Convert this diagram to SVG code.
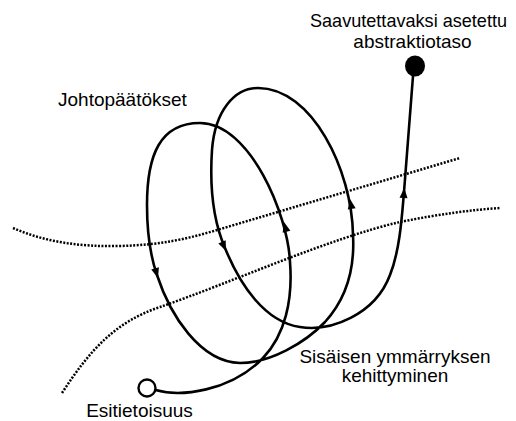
<svg xmlns="http://www.w3.org/2000/svg" xmlns:xlink="http://www.w3.org/1999/xlink" width="516" height="421" viewBox="0 0 516 421">
<style>
  .lbl { font-family: "Liberation Sans", Arial, sans-serif; font-size: 19px; fill: #000; }
  .spiral { fill: none; stroke: #000; stroke-width: 2.6; stroke-linecap: round; stroke-linejoin: round; }
  .dotted { fill: none; stroke: #000; stroke-width: 2.5; stroke-dasharray: 2 1.5; }
  .arrow { fill: #000; }
</style>
<defs>
  <path id="ah" d="M0,0 L-10,-4 L-10,4 Z"/>
</defs>
<rect width="516" height="421" fill="#fff"/>
<g id="connectors">
  <path class="dotted" d="M13,228 C45,242 80,247 120,246 C160,245 187,239 217,230 L460,158"/>
  <path class="dotted" d="M62,393 C90,350 115,322 160,307 C230,283 330,238 400,222 C440,214 470,210 500,208"/>
  <path class="spiral" d="M155.5,390 C180,397 230,392 263,358 C285,335 293,300 290,262 C288,215 250,123 200,123 C160,123 147,155 147,205 C147,235 150,255 157,275 C170,315 200,362 240,363 C270,363 305,343 325,322 C345,300 355,270 353,235 C352,170 312,88 258,88 C235,88 215,110 212,150 C209,195 215,225 225,248 C240,285 265,322 300,327 C330,332 375,315 390,275 C400,250 402,215 404,192 L413,76"/>
  <use xlink:href="#ah" class="arrow" transform="translate(158,278) rotate(73)"/>
  <use xlink:href="#ah" class="arrow" transform="translate(284,222) rotate(-104.5)"/>
  <use xlink:href="#ah" class="arrow" transform="translate(226,251) rotate(66.5)"/>
  <use xlink:href="#ah" class="arrow" transform="translate(350,199) rotate(-100)"/>
  <use xlink:href="#ah" class="arrow" transform="translate(404.3,188) rotate(-85.6)"/>
</g>
<g id="start">
  <circle cx="147" cy="388" r="8.5" fill="#fff" stroke="#000" stroke-width="2.4"/>
  <text class="lbl" x="139.5" y="417" text-anchor="middle">Esitietoisuus</text>
</g>
<g id="goal">
  <ellipse cx="415" cy="66" rx="10" ry="10.5" fill="#000"/>
  <text class="lbl" x="408.5" y="27" text-anchor="middle" textLength="197" lengthAdjust="spacingAndGlyphs">Saavutettavaksi asetettu</text>
  <text class="lbl" x="412.5" y="47.5" text-anchor="middle">abstraktiotaso</text>
</g>
<g id="conclusions">
  <text class="lbl" x="58" y="105.5">Johtopäätökset</text>
</g>
<g id="development">
  <text class="lbl" x="395" y="362.5" text-anchor="middle">Sisäisen ymmärryksen</text>
  <text class="lbl" x="395" y="381.5" text-anchor="middle">kehittyminen</text>
</g>
</svg>
